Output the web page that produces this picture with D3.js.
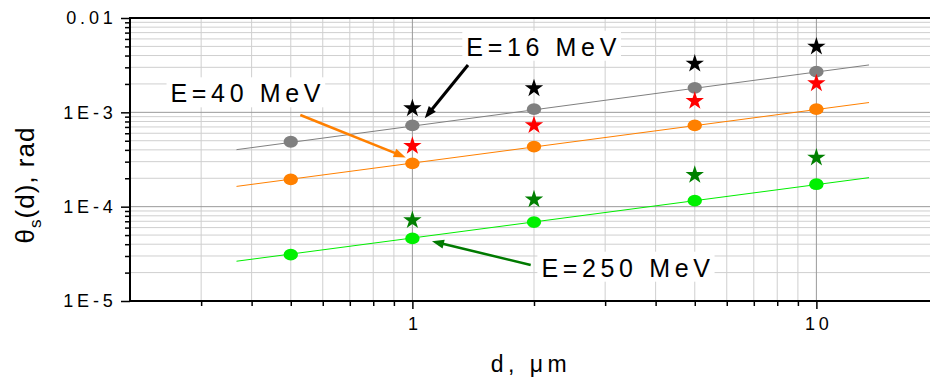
<!DOCTYPE html>
<html><head><meta charset="utf-8">
<script src="https://cdn.jsdelivr.net/npm/d3@7"></script>
<style>body{margin:0;background:#fff} svg{display:block}</style>
</head><body><svg id="c" width="930" height="379"></svg>
<script>
// ---- data ----
const dVals     = [0.5, 1, 2, 5, 10];
const theory16  = [4.88e-4, 7.28e-4, 1.08e-3, 1.82e-3, 2.70e-3];
const theory40  = [1.95e-4, 2.88e-4, 4.33e-4, 7.28e-4, 1.08e-3];
const theory250 = [3.10e-5, 4.61e-5, 6.87e-5, 1.16e-4, 1.73e-4];
const expD      = [1, 2, 5, 10];
const exp16     = [1.13e-3, 1.84e-3, 3.36e-3, 5.09e-3];
const exp40     = [4.51e-4, 7.47e-4, 1.35e-3, 2.08e-3];
const exp250    = [7.35e-5, 1.22e-4, 2.22e-4, 3.39e-4];
const fitD      = [0.367, 13.5];
const fit16     = [4.02e-4, 3.18e-3];
const fit40     = [1.64e-4, 1.27e-3];
const fit250    = [2.64e-5, 2.03e-4];
const yTickValues = [1e-5, 1e-4, 1e-3, 1e-2];
const yTickLabels = ["1E-5", "1E-4", "1E-3", "0.01"];
const xTickValues = [1, 10];
const xTickLabels = ["1", "10"];
const annLabels = ["E=16 MeV", "E=40 MeV", "E=250 MeV"];
const annTextD  = [1.36, 0.252, 2.086];
const annTextV  = [3.98e-3, 1.277e-3, 1.81e-5];
const annFromD  = [1.373, 0.528, 1.963];
const annFromV  = [3.18e-3, 9.37e-4, 2.41e-5];
const annToD    = [1.073, 0.963, 1.118];
const annToV    = [8.65e-4, 3.33e-4, 4.30e-5];

// ---- chart ----
const FONT = '"Liberation Sans", Arial, sans-serif';
const svg = d3.select("#c");
const L = 130, T = 18, B = 301, R = 938;
const x = d3.scaleLog().domain([0.2, 20]).range([L, R]);
const y = d3.scaleLog().domain([1e-5, 1e-2]).range([B, T]);

const xMinor = [], yMinor = [];
[0.1, 1, 10].forEach(dec => { for (let k = 2; k <= 9; k++) { const v = k * dec; if (v >= 0.2 - 1e-9 && v <= 20 + 1e-9) xMinor.push(v); } });
[1e-5, 1e-4, 1e-3].forEach(dec => { for (let k = 2; k <= 9; k++) yMinor.push(k * dec); });

const grid = svg.append("g");
grid.selectAll(".vx").data(xMinor).join("line")
  .attr("x1", d => x(d)).attr("x2", d => x(d)).attr("y1", T).attr("y2", B)
  .attr("stroke", "#cfcfcf").attr("stroke-width", 1);
grid.selectAll(".hy").data(yMinor).join("line")
  .attr("x1", L).attr("x2", R).attr("y1", d => y(d)).attr("y2", d => y(d))
  .attr("stroke", "#cfcfcf").attr("stroke-width", 1);
grid.selectAll(".vX").data(xTickValues).join("line")
  .attr("x1", d => x(d)).attr("x2", d => x(d)).attr("y1", T).attr("y2", B)
  .attr("stroke", "#999999").attr("stroke-width", 1);
grid.selectAll(".hY").data(yTickValues).join("line")
  .attr("x1", L).attr("x2", R).attr("y1", d => y(d)).attr("y2", d => y(d))
  .attr("stroke", "#999999").attr("stroke-width", 1);

// axes
const lsTick = 3.8, fsTick = 18;
const yAxisMajor = d3.axisLeft(y).tickValues(yTickValues)
  .tickFormat((d, i) => yTickLabels[i]).tickSize(9).tickPadding(4.5);
const yAxisMinor = d3.axisLeft(y).tickValues(yMinor).tickFormat("").tickSize(5);
const xAxisMajor = d3.axisBottom(x).tickValues(xTickValues)
  .tickFormat((d, i) => xTickLabels[i]).tickSize(8).tickPadding(8.2);
const xAxisMinor = d3.axisBottom(x).tickValues(xMinor.filter(v => v > 0.2 && v < 20)).tickFormat("").tickSize(5);

function styleAxis(g) {
  g.select(".domain").remove();
  g.attr("font-size", null).attr("font-family", null);
  g.selectAll("line").attr("stroke", "#000").attr("stroke-width", 1.5);
  g.selectAll("text").style("font-family", FONT).style("font-size", fsTick + "px")
    .style("letter-spacing", lsTick + "px").attr("fill", "#000");
}
svg.append("g").attr("transform", `translate(${L},0)`).call(yAxisMinor).call(styleAxis);
svg.append("g").attr("transform", `translate(${L},0)`).call(yAxisMajor).call(styleAxis);
svg.append("g").attr("transform", `translate(0,${B})`).call(xAxisMinor).call(styleAxis);
const gx = svg.append("g").attr("transform", `translate(0,${B})`).call(xAxisMajor).call(styleAxis);
gx.selectAll("text").attr("dx", lsTick / 2);

// spines
svg.append("line").attr("x1", L).attr("x2", L).attr("y1", T - 1).attr("y2", B + 1).attr("stroke", "#000").attr("stroke-width", 2);
svg.append("line").attr("x1", L).attr("x2", R).attr("y1", T).attr("y2", T).attr("stroke", "#000").attr("stroke-width", 1.8);
svg.append("line").attr("x1", L).attr("x2", R).attr("y1", B).attr("y2", B).attr("stroke", "#000").attr("stroke-width", 2);

// titles
svg.append("text").attr("x", 531).attr("y", 371.5).attr("text-anchor", "middle")
  .style("font-family", FONT).style("font-size", "23px").style("letter-spacing", "4.5px")
  .text("d, μm");
const yt = svg.append("text").attr("transform", "translate(33.5,185) rotate(-90)")
  .attr("text-anchor", "middle").style("font-family", FONT).style("font-size", "26px").style("letter-spacing", "1px");
yt.append("tspan").text("θ");
yt.append("tspan").attr("dy", 7).style("font-size", "17px").text("s");
yt.append("tspan").attr("dy", -7).text("(d), rad");

// fit lines
const line = d3.line().x(d => x(d[0])).y(d => y(d[1]));
const fits = [[fit16, "#808080"], [fit40, "#ff8000"], [fit250, "#00ee00"]];
fits.forEach(([vals, col]) => {
  svg.append("path").datum(fitD.map((d, i) => [d, vals[i]]))
    .attr("d", line).attr("fill", "none").attr("stroke", col).attr("stroke-width", 1);
});

// theory points
const theo = [[theory16, "#808080"], [theory40, "#ff8000"], [theory250, "#00f000"]];
theo.forEach(([vals, col]) => {
  svg.append("g").selectAll("ellipse").data(dVals.map((d, i) => [d, vals[i]])).join("ellipse")
    .attr("cx", d => x(d[0])).attr("cy", d => y(d[1])).attr("rx", 7.2).attr("ry", 5.9).attr("fill", col);
});

// experimental stars
const star = d3.symbol(d3.symbolStar, 105);
const exps = [[exp16, "#000000"], [exp40, "#ff0000"], [exp250, "#008000"]];
exps.forEach(([vals, col]) => {
  svg.append("g").selectAll("path").data(expD.map((d, i) => [d, vals[i]])).join("path")
    .attr("d", star).attr("transform", d => `translate(${x(d[0])},${y(d[1]) + 1})`).attr("fill", col);
});

// annotations
const annColors = ["#000000", "#ff8000", "#007a00"];
annLabels.forEach((lab, i) => {
  const t = svg.append("text").attr("x", x(annTextD[i])).attr("y", y(annTextV[i]))
    .style("font-family", FONT).style("font-size", "25px").style("letter-spacing", "4.65px").attr("fill", "#000").text(lab);
  const bb = t.node().getBBox();
  svg.insert("rect", () => t.node()).attr("x", bb.x - 4).attr("y", bb.y - 2).attr("width", bb.width + 4).attr("height", bb.height + 2).attr("fill", "#fff");
  const x1 = x(annFromD[i]), y1 = y(annFromV[i]), x2 = x(annToD[i]), y2 = y(annToV[i]);
  const dx = x2 - x1, dy = y2 - y1, len = Math.hypot(dx, dy), ux = dx / len, uy = dy / len;
  const hl = 12, hw = 4.5;
  svg.append("line").attr("x1", x1).attr("y1", y1).attr("x2", x2 - ux * (hl - 2)).attr("y2", y2 - uy * (hl - 2))
    .attr("stroke", annColors[i]).attr("stroke-width", i === 0 ? 3 : 2.5);
  const bx = x2 - ux * hl, by = y2 - uy * hl;
  svg.append("path").attr("d", `M${x2},${y2}L${bx - uy * hw},${by + ux * hw}L${bx + uy * hw},${by - ux * hw}Z`)
    .attr("fill", annColors[i]);
});
</script></body></html>
